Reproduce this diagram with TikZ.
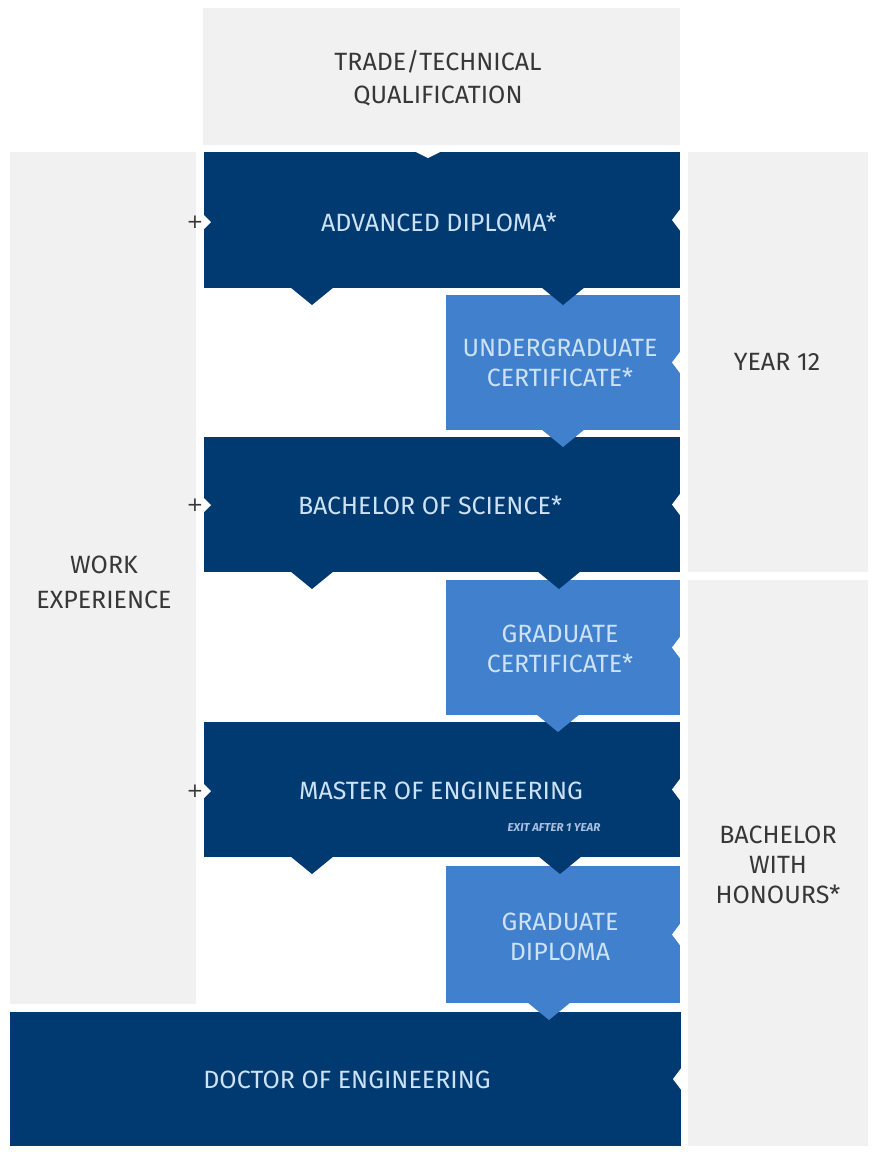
\documentclass[tikz,border=0pt]{standalone}
\usepackage{fontspec}
\setmainfont{Fira Sans}
\newfontfamily\plusfont{DejaVu Sans}
\usetikzlibrary{calc}
\definecolor{navy}{RGB}{0,58,112}
\definecolor{sky}{RGB}{64,128,204}
\definecolor{bggrey}{RGB}{241,241,241}
\definecolor{paletext}{RGB}{205,226,246}
\definecolor{greytext}{RGB}{55,55,55}
\definecolor{exittext}{RGB}{170,192,224}
\begin{document}
\begin{tikzpicture}[x=1pt,y=-1pt,
  every node/.style={inner sep=0pt,outer sep=0pt},
  panel/.style={rectangle,draw=none},
  navybox/.style={panel,fill=navy},
  skybox/.style={panel,fill=sky},
  greybox/.style={panel,fill=bggrey},
  boxlbl/.style={text=paletext,align=center,font=\fontsize{25}{30}\selectfont},
  greylbl/.style={text=greytext,align=center,font=\fontsize{25}{33}\selectfont},
  exitlbl/.style={text=exittext,font=\fontsize{11.5}{12}\selectfont\bfseries\itshape},
  plusmark/.style={text=greytext,font=\plusfont\fontsize{20}{20}\selectfont},
  notch/.style={fill=white},
]
\useasboundingbox[fill=white] (0,0) rectangle (872,1152);

% grey panels
\node[greybox,minimum width=477pt,minimum height=137pt] (trade) at (441.5,76.5) {};
\node[greybox,minimum width=186pt,minimum height=852pt] (work) at (103,578) {};
\node[greybox,minimum width=180pt,minimum height=420pt] (yr12) at (778,362) {};
\node[greybox,minimum width=180pt,minimum height=566pt] (hons) at (778,863) {};

% programme boxes
\node[navybox,minimum width=476pt,minimum height=136pt] (adv) at (442,220) {};
\node[skybox,minimum width=234pt,minimum height=135pt] (ug) at (563,362.5) {};
\node[navybox,minimum width=476pt,minimum height=135pt] (bsc) at (442,504.5) {};
\node[skybox,minimum width=234pt,minimum height=135pt] (gc) at (563,647.5) {};
\node[navybox,minimum width=476pt,minimum height=135pt] (meng) at (442,789.5) {};
\node[skybox,minimum width=234pt,minimum height=137pt] (gd) at (563,934.5) {};
\node[navybox,minimum width=671pt,minimum height=134pt] (doc) at (345.5,1079) {};

% downward pointers (dark boxes: two each)
\foreach \b/\dx in {adv/108,adv/359,bsc/108,bsc/355,meng/108,meng/356}{
  \fill[navy] ([xshift=\dx pt-22pt,yshift=1pt]\b.south west) -- ([xshift=\dx pt+22pt,yshift=1pt]\b.south west) -- ([xshift=\dx pt,yshift=-17pt]\b.south west) -- cycle;
}
% downward pointers (light boxes)
\foreach \b/\dx in {ug/117,gc/112,gd/103}{
  \fill[sky] ([xshift=\dx pt-22pt,yshift=1pt]\b.south west) -- ([xshift=\dx pt+22pt,yshift=1pt]\b.south west) -- ([xshift=\dx pt,yshift=-17pt]\b.south west) -- cycle;
}

% top notch below trade panel
\fill[notch] ($(adv.north west)+(210,-1)$) -- ($(adv.north west)+(238,-1)$) -- ($(adv.north west)+(224,6)$) -- cycle;

% right-edge notches
\foreach \b in {adv,ug,bsc,gc,meng,gd,doc}{
  \fill[notch] ($(\b.east)+(1,-12)$) -- ($(\b.east)+(-8,0)$) -- ($(\b.east)+(1,12)$) -- cycle;
}
% left-edge notches
\foreach \b/\y in {adv/222,bsc/505,meng/791}{
  \fill[notch] (203,\y-8) -- (211,\y) -- (203,\y+8) -- cycle;
}

% labels
\node[greylbl] (tradet) at (438,78.5) {TRADE/TECHNICAL\\QUALIFICATION};
\node[greylbl,font=\fontsize{25}{35}\selectfont] (workt) at (104,582) {WORK\\EXPERIENCE};
\node[greylbl] (yr12t) at (777,362) {YEAR 12};
\node[greylbl,font=\fontsize{25}{30}\selectfont] (honst) at (778,865) {BACHELOR\\WITH\\HONOURS*};

\node[boxlbl] (advt) at (439,222) {ADVANCED DIPLOMA*};
\node[boxlbl] (ugt) at (560,363) {UNDERGRADUATE\\CERTIFICATE*};
\node[boxlbl] (bsct) at (430,505) {BACHELOR OF SCIENCE*};
\node[boxlbl] (gct) at (560,649) {GRADUATE\\CERTIFICATE*};
\node[boxlbl] (mengt) at (441,791) {MASTER OF ENGINEERING};
\node[exitlbl] (exitt) at (554,828) {EXIT AFTER 1 YEAR};
\node[boxlbl] (gdt) at (560,937) {GRADUATE\\DIPLOMA};
\node[boxlbl] (doct) at (347,1080) {DOCTOR OF ENGINEERING};

\node[plusmark] (p1) at (195,222) {+};
\node[plusmark] (p2) at (195,505) {+};
\node[plusmark] (p3) at (195,791) {+};
\end{tikzpicture}
\end{document}
